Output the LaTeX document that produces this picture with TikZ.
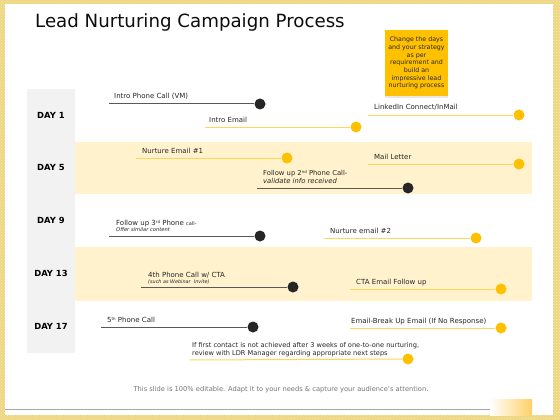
\documentclass[tikz,border=0pt]{standalone}
\usepackage{fontspec}
\setmainfont{DejaVu Sans}
\usetikzlibrary{shadows,patterns}
\definecolor{frameY}{HTML}{EED680}
\definecolor{bandY}{HTML}{FFF2CC}
\definecolor{dayG}{HTML}{F2F2F2}
\definecolor{dotY}{HTML}{FFC000}
\definecolor{lineY}{HTML}{FFD659}
\definecolor{dotK}{HTML}{262626}
\definecolor{lineK}{HTML}{595959}
\definecolor{txt}{HTML}{262626}
\definecolor{noteY}{HTML}{FFC000}
\newcommand{\supx}[1]{\raisebox{2pt}{\fontsize{4}{4}\selectfont #1}}
\begin{document}
\begin{tikzpicture}[x=1pt,y=-1pt,
  ydot/.style={circle,fill=dotY,inner sep=0pt,minimum size=11pt},
  kdot/.style={circle,fill=dotK,inner sep=0pt,minimum size=11pt},
  yline/.style={draw=lineY,line width=1pt},
  kline/.style={draw=lineK,line width=1pt},
  lbl/.style={anchor=base west,inner sep=0pt,text=txt,font=\fontsize{7}{8}\selectfont},
  daylbl/.style={inner sep=0pt,text=black,font=\fontsize{8.4}{10}\selectfont\bfseries},
  band/.style={fill=bandY,draw=none}]
\useasboundingbox (0,0) rectangle (560,420);
% frame
\fill[frameY] (0,0) rectangle (560,420);
\fill[pattern=crosshatch dots,pattern color=white!50!frameY] (0,0) rectangle (560,420);
\fill[white] (5,4) rectangle (553,415);
% bottom decoration
\draw[draw={rgb,255:red,166;green,166;blue,166},line width=0.8pt] (5,409) -- (490,409);
\shade[left color=white,right color={rgb,255:red,255;green,208;blue,102}] (490,399) rectangle (532,415);
% title
\node[anchor=base west,inner sep=0pt,font=\fontsize{18.2}{22}\selectfont,text={rgb,255:red,13;green,13;blue,13}] (title) at (35,28) {Lead Nurturing Campaign Process};
% day column and bands
\fill[dayG] (27,89) rectangle (75,353);
\fill[band] (75,142) rectangle (532,194);
\fill[band] (75,247) rectangle (532,301);
\node[daylbl] (day1) at (51,115) {DAY 1};
\node[daylbl] (day5) at (51,167) {DAY 5};
\node[daylbl] (day9) at (51,220) {DAY 9};
\node[daylbl] (day13) at (51,273) {DAY 13};
\node[daylbl] (day17) at (51,326) {DAY 17};
% note
\node[fill=noteY,drop shadow={opacity=0.18,shadow xshift=0pt,shadow yshift=-2pt},minimum width=63pt,minimum height=66pt,inner sep=0pt,align=center,text=txt,font=\fontsize{6.3}{7.7}\selectfont] (note) at (416.5,63) {Change the days\\and your strategy\\as per\\requirement and\\build an\\impressive lead\\nurturing process};
% Day 1
\coordinate (s1) at (109,104); \node[kdot] (d1) at (260,104) {};
\draw[kline] (s1) -- (d1);
\node[lbl] (t1) at (114,99) {Intro Phone Call (VM)};
\coordinate (s2) at (205,127); \node[ydot] (d2) at (356,127) {};
\draw[yline] (s2) -- (d2);
\node[lbl] (t2) at (209,122) {Intro Email};
\coordinate (s3) at (368,115); \node[ydot] (d3) at (519,115) {};
\draw[yline] (s3) -- (d3);
\node[lbl] (t3) at (374,110) {LinkedIn Connect/InMail};
% Day 5
\coordinate (s4) at (136,158); \node[ydot] (d4) at (287,158) {};
\draw[yline] (s4) -- (d4);
\node[lbl] (t4) at (142,153) {Nurture Email \#1};
\coordinate (s5) at (368,164); \node[ydot] (d5) at (519,164) {};
\draw[yline] (s5) -- (d5);
\node[lbl] (t5) at (374,159) {Mail Letter};
\coordinate (s6) at (257,188); \node[kdot] (d6) at (408,188) {};
\draw[kline] (s6) -- (d6);
\node[lbl,align=left,font=\fontsize{6.8}{8}\selectfont] (t6) at (263,183) {Follow up 2\supx{nd} Phone Call-\\\itshape validate info received};
% Day 9
\coordinate (s7) at (109,236); \node[kdot] (d7) at (260,236) {};
\draw[kline] (s7) -- (d7);
\node[lbl,align=left] (t7) at (116,231) {Follow up 3\supx{rd} Phone {\fontsize{5}{5}\selectfont call-}\\[-2pt]{\fontsize{5.2}{6}\selectfont\itshape Offer similar content}};
\coordinate (s8) at (324,238); \node[ydot] (d8) at (476,238) {};
\draw[yline] (s8) -- (d8);
\node[lbl] (t8) at (330,233) {Nurture email \#2};
% Day 13
\coordinate (s9) at (141,287); \node[kdot] (d9) at (293,287) {};
\draw[kline] (s9) -- (d9);
\node[lbl,align=left] (t9) at (148,283) {4th Phone Call w/ CTA\\[-2pt]{\fontsize{4.9}{6}\selectfont\itshape (such as Webinar~ Invite)}};
\coordinate (s10) at (350,289); \node[ydot] (d10) at (501,289) {};
\draw[yline] (s10) -- (d10);
\node[lbl] (t10) at (356,284) {CTA Email Follow up};
% Day 17
\coordinate (s11) at (101,327); \node[kdot] (d11) at (253,327) {};
\draw[kline] (s11) -- (d11);
\node[lbl] (t11) at (107,322) {5\supx{th} Phone Call};
\coordinate (s12) at (350,328); \node[ydot] (d12) at (501,328) {};
\draw[yline] (s12) -- (d12);
\node[lbl] (t12) at (351,323) {Email-Break Up Email (If No Response)};
\coordinate (s13) at (190,360); \node[ydot] (d13) at (408,359) {};
\draw[yline] (s13) -- (d13);
\node[lbl,align=left,font=\fontsize{6.6}{8}\selectfont] (t13) at (192,355) {If first contact is not achieved after 3 weeks of one-to-one nurturing,\\review with LDR Manager regarding appropriate next steps};
% footer
\node[inner sep=0pt,anchor=base,text={rgb,255:red,118;green,118;blue,118},font=\fontsize{6.7}{8}\selectfont] (foot) at (281,391) {This slide is 100\% editable. Adapt it to your needs \& capture your audience's attention.};
\end{tikzpicture}
\end{document}
